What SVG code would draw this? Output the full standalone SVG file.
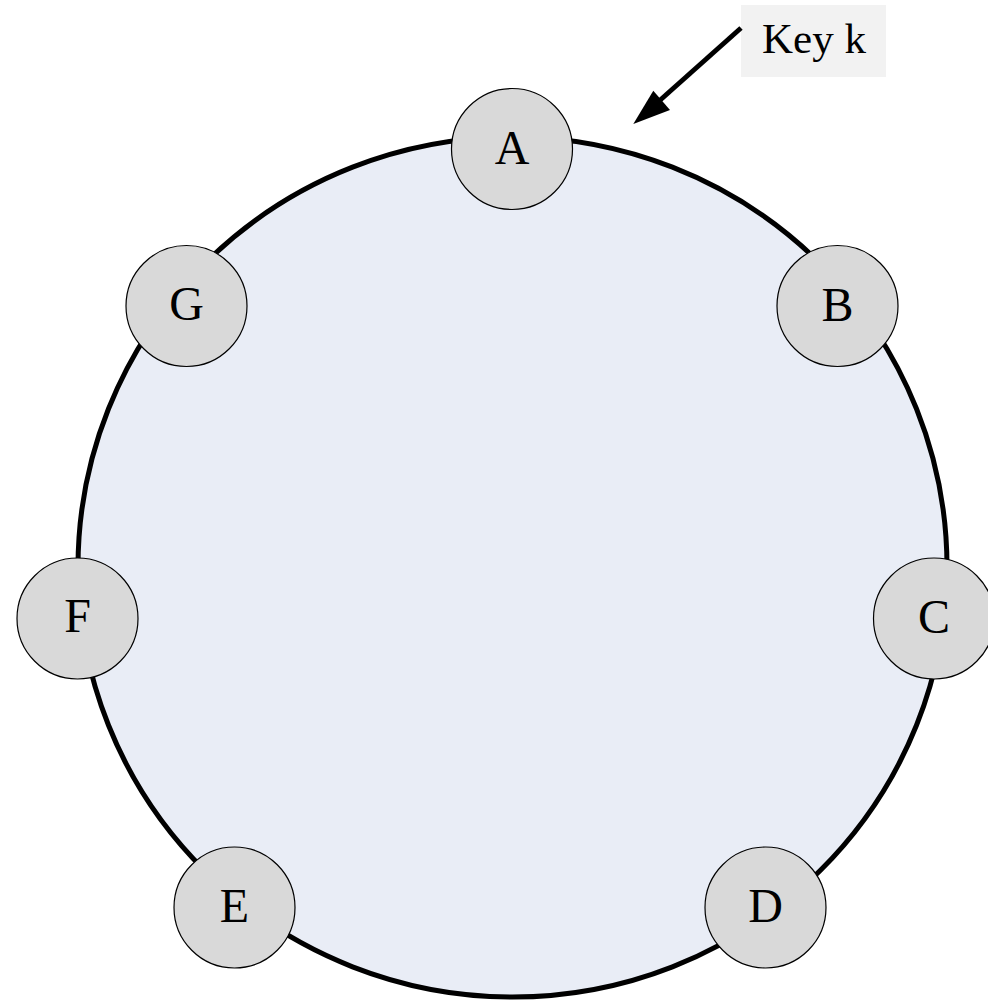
<svg xmlns="http://www.w3.org/2000/svg" width="988" height="1002" viewBox="0 0 988 1002">
<style>
.node circle{fill:#d9d9d9;stroke:#000;stroke-width:1.2}
.lbl{font-family:"Liberation Serif","Times New Roman",serif;font-size:48px;fill:#000;text-anchor:middle}
.key{font-family:"Liberation Serif","Times New Roman",serif;font-size:43px;fill:#000;text-anchor:middle}
</style>
<rect width="988" height="1002" fill="#fff"/>
<g id="ring">
<ellipse cx="512.5" cy="567" rx="434.5" ry="430" fill="#e9edf6" stroke="#000" stroke-width="5"/>
</g>
<g id="key">
<rect x="741" y="5" width="145" height="72" fill="#f2f2f2"/>
<text class="key" x="814" y="53">Key k</text>
</g>
<g id="connectors">
<line x1="741" y1="28" x2="658" y2="102" stroke="#000" stroke-width="5"/>
<polygon points="633.3,124 653.3,90.7 670,110" fill="#000"/>
</g>
<g id="node-A" class="node"><circle cx="512" cy="149" r="60.5"/><text class="lbl" x="512" y="164">A</text></g>
<g id="node-B" class="node"><circle cx="837.5" cy="306" r="60.5"/><text class="lbl" x="837.5" y="321">B</text></g>
<g id="node-C" class="node"><circle cx="934" cy="618.5" r="60.5"/><text class="lbl" x="934" y="633">C</text></g>
<g id="node-D" class="node"><circle cx="765.5" cy="907.5" r="60.5"/><text class="lbl" x="765.5" y="922">D</text></g>
<g id="node-E" class="node"><circle cx="234.5" cy="907.5" r="60.5"/><text class="lbl" x="234.5" y="922">E</text></g>
<g id="node-F" class="node"><circle cx="77.5" cy="618.5" r="60.5"/><text class="lbl" x="77.5" y="632">F</text></g>
<g id="node-G" class="node"><circle cx="186.5" cy="306" r="60.5"/><text class="lbl" x="186.5" y="320">G</text></g>
</svg>
